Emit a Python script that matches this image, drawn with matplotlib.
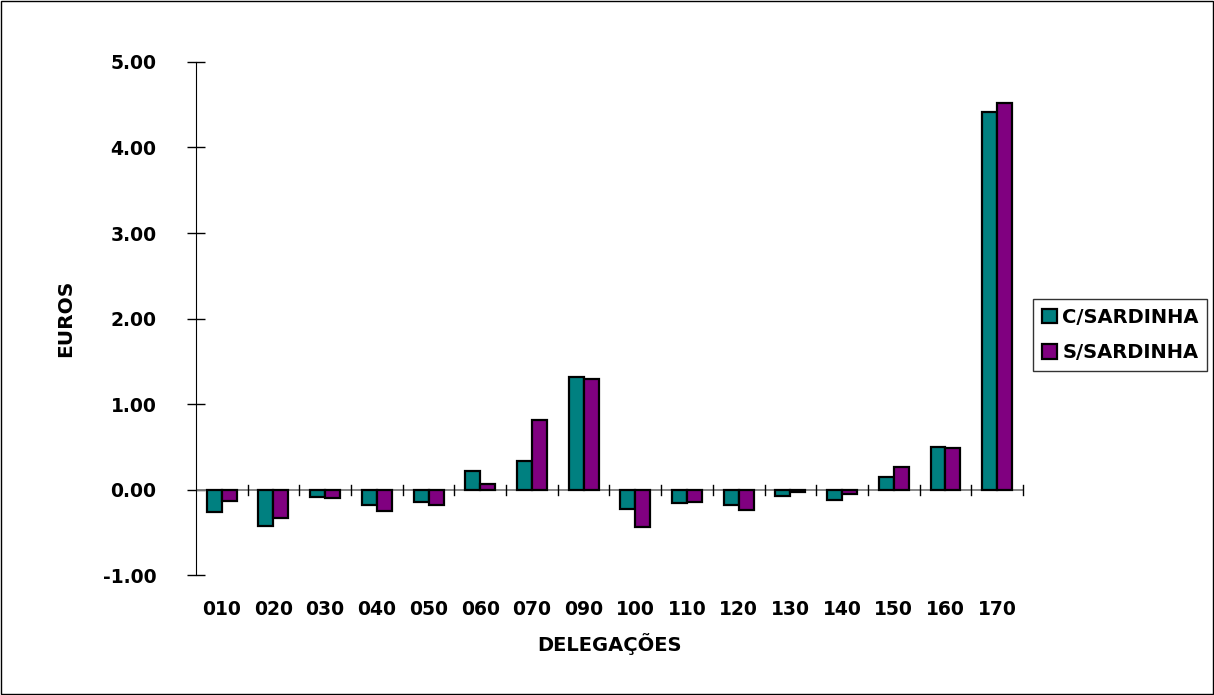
import matplotlib.pyplot as plt
import numpy as np
from matplotlib.patches import Rectangle

delegacoes = ["010", "020", "030", "040", "050", "060", "070", "090",
              "100", "110", "120", "130", "140", "150", "160", "170"]
com_sardinha = [-0.26, -0.42, -0.08, -0.18, -0.14, 0.22, 0.34, 1.32,
                -0.22, -0.15, -0.18, -0.07, -0.12, 0.15, 0.50, 4.41]
sem_sardinha = [-0.13, -0.33, -0.10, -0.25, -0.18, 0.07, 0.82, 1.29,
                -0.43, -0.14, -0.23, -0.02, -0.05, 0.27, 0.49, 4.52]
y_ticks = [-1.0, 0.0, 1.0, 2.0, 3.0, 4.0, 5.0]

plt.rcParams['font.family'] = ['DejaVu Sans']
plt.rcParams['font.weight'] = 'bold'

fig = plt.figure(figsize=(12.14, 6.95), dpi=100)
ax = fig.add_axes([0.1614, 0.172, 0.6813, 0.739])

x = np.arange(len(delegacoes))
w = 0.29
ax.bar(x - w / 2, com_sardinha, w, color="#008080", edgecolor="black",
       linewidth=1.6, label="C/SARDINHA", zorder=3)
ax.bar(x + w / 2, sem_sardinha, w, color="#800080", edgecolor="black",
       linewidth=1.6, label="S/SARDINHA", zorder=3)

ax.set_xlim(-0.5, len(delegacoes) - 0.5)
ax.set_ylim(-1, 5)
ax.set_yticks(y_ticks)
ax.set_yticklabels([f"{v:.2f}" for v in y_ticks], fontsize=13.5, fontweight="bold")
ax.tick_params(axis="y", direction="inout", length=13, width=1, pad=22)

# category labels below plot, ticks at category boundaries on the zero line
ax.set_xticks(x)
ax.set_xticklabels(delegacoes, fontsize=13.5, fontweight="bold")
ax.tick_params(axis="x", length=0, pad=18)
for b in np.arange(-0.5, len(delegacoes), 1.0)[1:]:
    ax.plot([b, b], [-0.06, 0.06], color="black", lw=1, zorder=4, clip_on=False)
ax.axhline(0, color="#808080", lw=1.3, zorder=2)

for s in ["top", "right", "bottom"]:
    ax.spines[s].set_visible(False)
ax.spines["left"].set_color("black")

ax.set_ylabel("EUROS", fontsize=14.5, fontweight="bold", labelpad=20)
ax.set_xlabel("DELEGAÇÕES", fontsize=14, fontweight="bold", labelpad=10)

leg = ax.legend(loc="upper left", bbox_to_anchor=(1033 / 1214, 1 - 299 / 695),
                bbox_transform=fig.transFigure, fontsize=14,
                frameon=True, fancybox=False, handlelength=0.8, handleheight=0.8,
                handletextpad=0.25, borderpad=0.45, labelspacing=0.85,
                borderaxespad=0)
leg.get_frame().set_edgecolor("black")
leg.get_frame().set_linewidth(1)
for t in leg.get_texts():
    t.set_fontweight("bold")

fig.patches.append(Rectangle((0.001, 0.001), 0.998, 0.998, transform=fig.transFigure,
                             fill=False, edgecolor="black", lw=1))

fig.savefig("out.png", dpi=100)
